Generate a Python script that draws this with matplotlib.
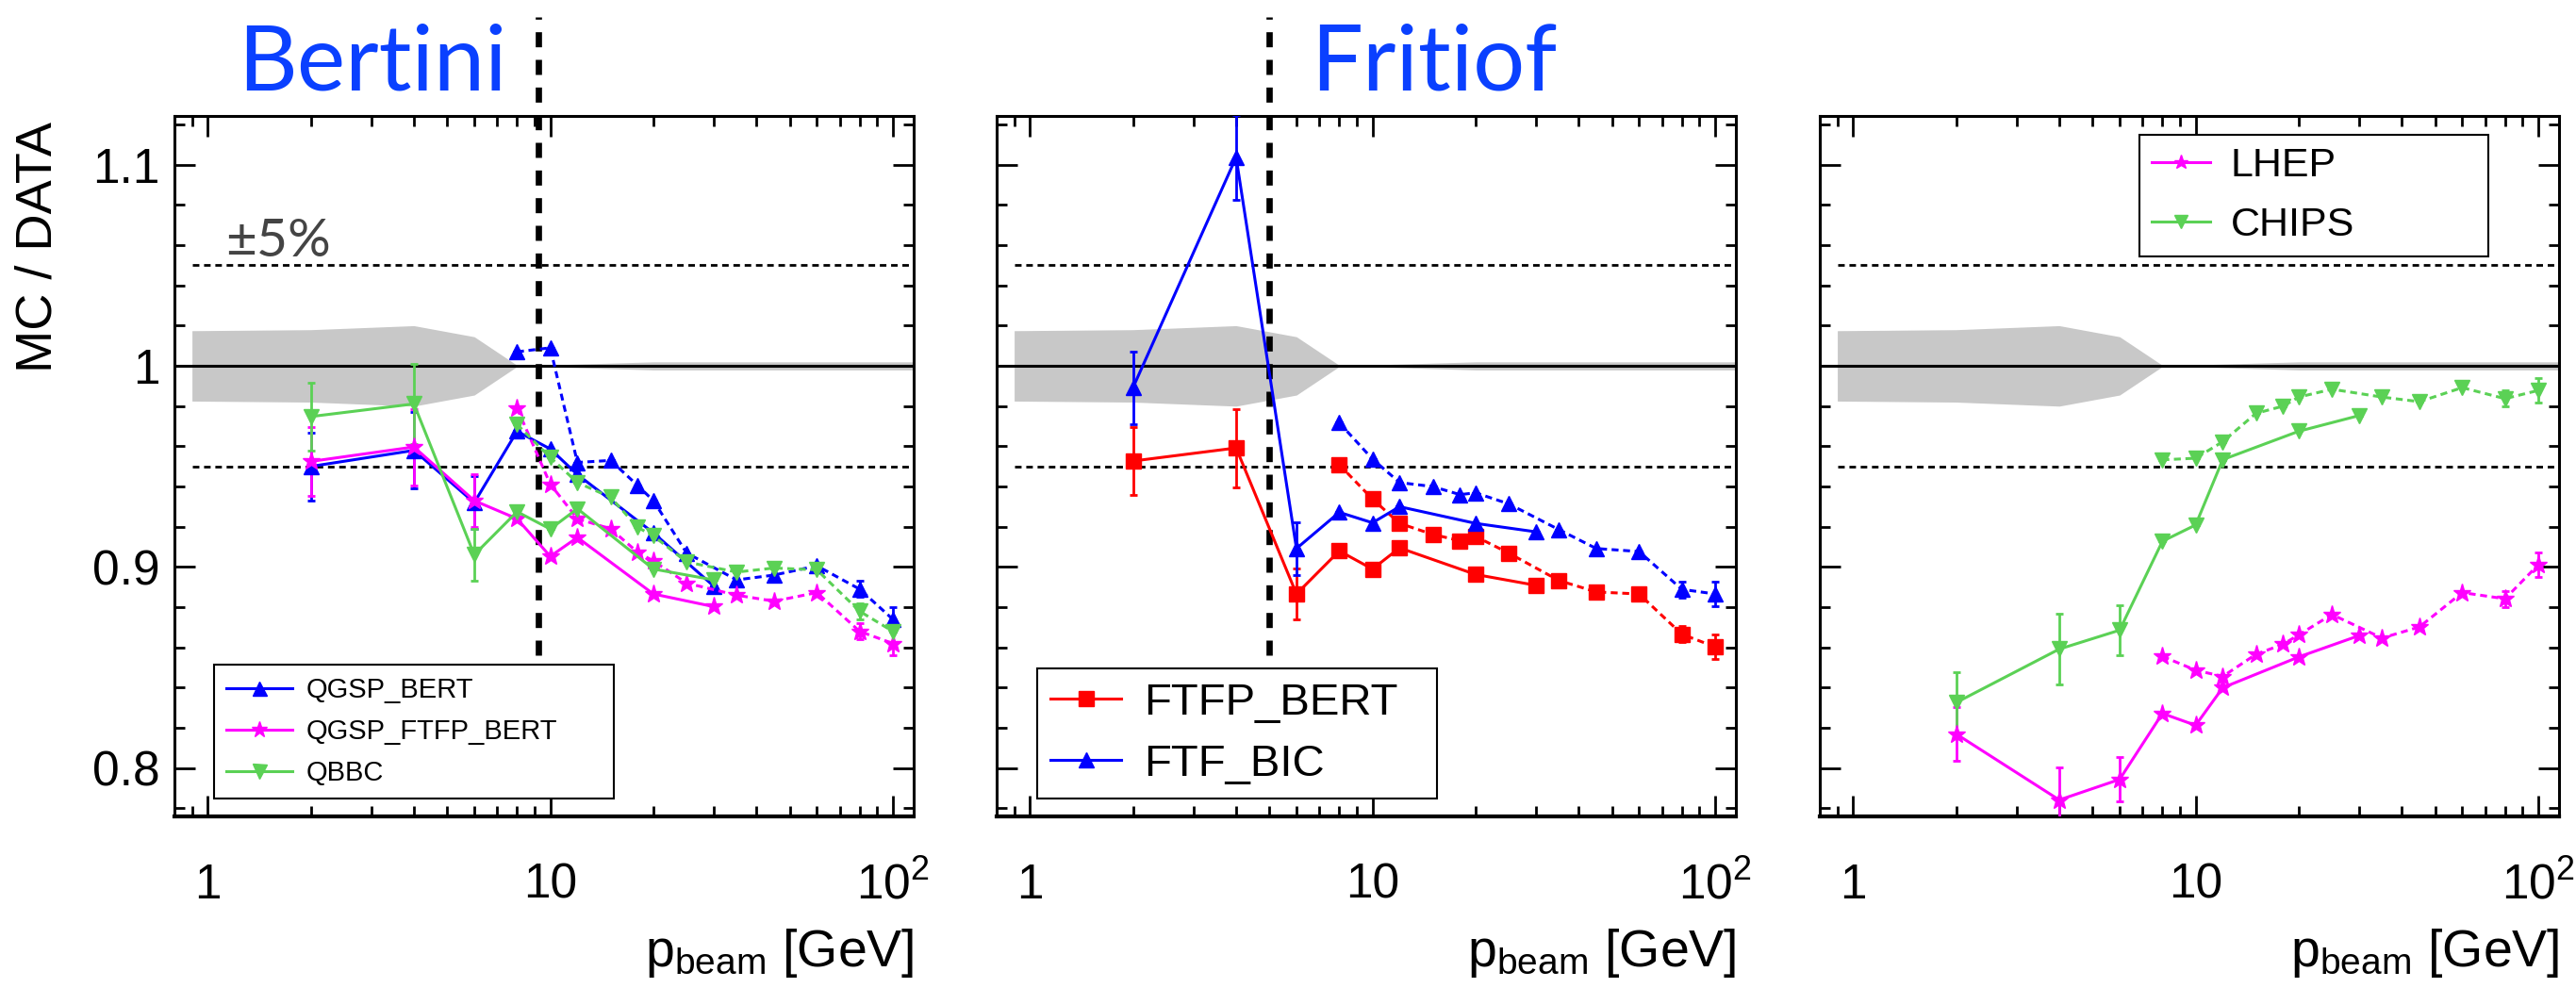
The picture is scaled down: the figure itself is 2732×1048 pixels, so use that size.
import matplotlib.pyplot as plt
from matplotlib.ticker import FixedLocator, FixedFormatter, LogLocator, MultipleLocator, NullFormatter

plt.rcParams['font.family'] = ['Liberation Sans', 'DejaVu Sans']
plt.rcParams['mathtext.fontset'] = 'custom'
plt.rcParams['mathtext.rm'] = 'Liberation Sans'
plt.rcParams['mathtext.it'] = 'Liberation Sans:italic'

W, H = 2732, 1048

# beam momenta of the two data sets (solid / dotted)
p_low = [2, 4, 6, 8, 10, 12, 20, 30]
p_high = [8, 10, 12, 15, 18, 20, 25, 35, 45, 60, 80, 100]
high_err = [0, 0, 0, 0, 0, 0, 0, 0, 0, 0, 0.004, 0.006]

# uncertainty band of the data
band_p = [0.9, 2, 4, 6, 8, 10, 20, 30, 120]
band_err = [0.0175, 0.018, 0.020, 0.0145, 0.0003, 0.0005, 0.002, 0.002, 0.002]

# Bertini panel
qgsp_bert_low = [0.950, 0.958, 0.932, 0.9675, 0.9587, 0.946, 0.917, 0.8905]
qgsp_bert_err = [0.017, 0.019, 0.013, 0, 0, 0, 0, 0]
qgsp_bert_high = [1.007, 1.009, 0.952, 0.953, 0.9405, 0.933, 0.907, 0.8936, 0.896, 0.9006, 0.889, 0.874]
qgsp_ftfp_low = [0.9525, 0.9597, 0.933, 0.924, 0.9053, 0.9147, 0.8866, 0.8803]
qgsp_ftfp_err = [0.017, 0.019, 0.013, 0, 0, 0, 0, 0]
qgsp_ftfp_high = [0.979, 0.9412, 0.924, 0.919, 0.9073, 0.903, 0.892, 0.886, 0.883, 0.8873, 0.868, 0.862]
qbbc_low = [0.9748, 0.9811, 0.9061, 0.9275, 0.9189, 0.929, 0.899, 0.8936]
qbbc_err = [0.017, 0.020, 0.013, 0, 0, 0, 0, 0]
qbbc_high = [0.9709, 0.9545, 0.942, 0.9347, 0.9197, 0.9155, 0.9025, 0.8975, 0.8995, 0.8986, 0.878, 0.868]

# Fritiof panel
ftfp_bert_low = [0.9527, 0.9592, 0.8866, 0.908, 0.899, 0.9095, 0.8963, 0.8909]
ftfp_bert_err = [0.017, 0.0195, 0.0126, 0, 0, 0, 0, 0]
ftfp_bert_high = [0.9509, 0.9338, 0.9217, 0.9162, 0.9131, 0.9152, 0.9069, 0.8933, 0.8876, 0.8866, 0.8666, 0.8603]
ftf_bic_low = [0.9892, 1.1037, 0.9092, 0.9272, 0.922, 0.930, 0.9217, 0.9175]
ftf_bic_err = [0.018, 0.021, 0.013, 0, 0, 0, 0, 0]
ftf_bic_high = [0.9717, 0.9537, 0.942, 0.940, 0.936, 0.9369, 0.9314, 0.9186, 0.9092, 0.9077, 0.8889, 0.8866]

# third panel
lhep_low = [0.817, 0.7842, 0.7944, 0.8272, 0.8213, 0.840, 0.8553, 0.8659]
lhep_err = [0.0135, 0.016, 0.011, 0, 0, 0, 0, 0]
lhep_high = [0.8556, 0.8487, 0.8456, 0.8566, 0.8616, 0.8663, 0.8764, 0.8647, 0.8702, 0.8873, 0.8842, 0.9011]
chips_low = [0.8326, 0.8592, 0.8686, 0.9128, 0.9209, 0.9534, 0.9675, 0.9753]
chips_err = [0.015, 0.0175, 0.0125, 0, 0, 0, 0, 0]
chips_high = [0.9533, 0.9541, 0.9623, 0.9764, 0.980, 0.9845, 0.9884, 0.9845, 0.9822, 0.9892, 0.9837, 0.9878]

BLUE, MAGENTA, GREEN, RED = '#0000ff', '#ff00ff', '#5bd155', '#ff0000'

panels = [
    [('QGSP_BERT', BLUE, '^', 12, qgsp_bert_low, qgsp_bert_err, qgsp_bert_high),
     ('QGSP_FTFP_BERT', MAGENTA, '*', 14, qgsp_ftfp_low, qgsp_ftfp_err, qgsp_ftfp_high),
     ('QBBC', GREEN, 'v', 12, qbbc_low, qbbc_err, qbbc_high)],
    [('FTFP_BERT', RED, 's', 11, ftfp_bert_low, ftfp_bert_err, ftfp_bert_high),
     ('FTF_BIC', BLUE, '^', 12, ftf_bic_low, ftf_bic_err, ftf_bic_high)],
    [('LHEP', MAGENTA, '*', 14, lhep_low, lhep_err, lhep_high),
     ('CHIPS', GREEN, 'v', 12, chips_low, chips_err, chips_high)],
]
vlines = [9.25, 5.0, None]
legend_opts = [
    dict(loc='lower left', bbox_to_anchor=(0.0536, 0.0256, 0.541, 0.2017), fontsize=21,
         labelspacing=0.55, handlelength=2.4, borderpad=0.45, markerscale=0.9),
    dict(loc='lower left', bbox_to_anchor=(0.0543, 0.0256, 0.541, 0.2017), fontsize=34,
         labelspacing=0.45, handlelength=1.6, borderpad=0.3, markerscale=1.0),
    dict(loc='upper left', bbox_to_anchor=(0.432, 0.7707, 0.472, 0.2021), fontsize=31,
         labelspacing=0.55, handlelength=1.45, borderpad=0.3, markerscale=0.8),
]

fig = plt.figure(figsize=(W / 100, H / 100), dpi=100)
ax_bottom, ax_height, ax_width = (H - 866) / H, 743.5 / H, 784 / W

for i, left in enumerate([185, 1057, 1930]):
    ax = fig.add_axes([left / W, ax_bottom, ax_width, ax_height])
    ax.set_xscale('log')
    ax.set_xlim(0.8, 115)
    ax.set_ylim(0.776, 1.1245)

    # data band and reference lines
    ax.fill_between(band_p, [1 - e for e in band_err], [1 + e for e in band_err],
                    color='#c8c8c8', lw=0, zorder=1)
    ax.axhline(1.0, color='black', lw=2.2, zorder=1.5)
    for yv in (1.05, 0.95):
        ax.plot([0.9, 115], [yv, yv], color='black', lw=2, ls=(0, (2.5, 1.8)), zorder=1.5)

    if vlines[i] is not None:
        ax.plot([vlines[i], vlines[i]], [0.856, 1.1735], color='black', lw=4.8,
                ls=(0, (2.4, 2.0)), clip_on=False, zorder=2.5)

    handles, labels = [], []
    for label, color, marker, ms, low, low_err, high in panels[i]:
        eb = ax.errorbar(p_low, low, yerr=low_err, color=color, marker=marker, ms=ms,
                         mec=color, lw=2.2, elinewidth=2, capsize=3.2, capthick=2, zorder=4)
        ax.errorbar(p_high, high, yerr=high_err, color=color, marker=marker, ms=ms,
                    mec=color, lw=2.2, ls=(0, (2.4, 1.6)), elinewidth=2, capsize=3.2,
                    capthick=2, zorder=4)
        handles.append(eb[0])
        labels.append(label)

    leg = ax.legend(handles, labels, mode='expand', borderaxespad=0, handletextpad=0.5,
                    fancybox=False, edgecolor='black', framealpha=1, **legend_opts[i])
    leg.get_frame().set_linewidth(1.5)

    # ticks
    ax.xaxis.set_major_locator(FixedLocator([1, 10, 100]))
    ax.xaxis.set_major_formatter(FixedFormatter(['1', '10', r'$\mathregular{10^{2}}$']))
    ax.xaxis.set_minor_locator(LogLocator(base=10, subs=range(2, 10)))
    ax.xaxis.set_minor_formatter(NullFormatter())
    ax.yaxis.set_major_locator(FixedLocator([0.8, 0.9, 1.0, 1.1]))
    ax.yaxis.set_major_formatter(FixedFormatter(['0.8', '0.9', '1', '1.1']))
    ax.yaxis.set_minor_locator(MultipleLocator(0.02))
    ax.tick_params(which='both', direction='in', top=True, right=True, width=2)
    ax.tick_params(which='major', length=16, labelsize=37)
    ax.tick_params(which='minor', length=8)
    ax.tick_params(axis='x', pad=35)
    ax.tick_params(axis='y', pad=11)
    if i > 0:
        ax.tick_params(axis='y', labelleft=False)
    for side in ax.spines:
        ax.spines[side].set_linewidth(2.2)
    ax.spines['bottom'].set_linewidth(3)

    ax.text(1.0, (866 - 1025) / 743.5, r'p$_{\mathregular{beam}}$ [GeV]', transform=ax.transAxes,
            ha='right', va='baseline', fontsize=40)

    if i == 0:
        ax.text((239 - 185) / 784, (866 - 272) / 743.5, '±5%', transform=ax.transAxes,
                family=['Lato', 'DejaVu Sans'], fontsize=41, color='#444444', va='baseline')

fig.text(41 / W, 1 - 262 / H, 'MC / DATA', rotation=90, ha='center', va='center', fontsize=39)
fig.text(252 / W, 1 - 95 / H, 'Bertini', family=['Lato', 'DejaVu Sans'], fontsize=70,
         color='#0a40ff', va='baseline')
fig.text(1390 / W, 1 - 95 / H, 'Fritiof', family=['Lato', 'DejaVu Sans'], fontsize=70,
         color='#0a40ff', va='baseline')

fig.savefig('out.png', dpi=100)
